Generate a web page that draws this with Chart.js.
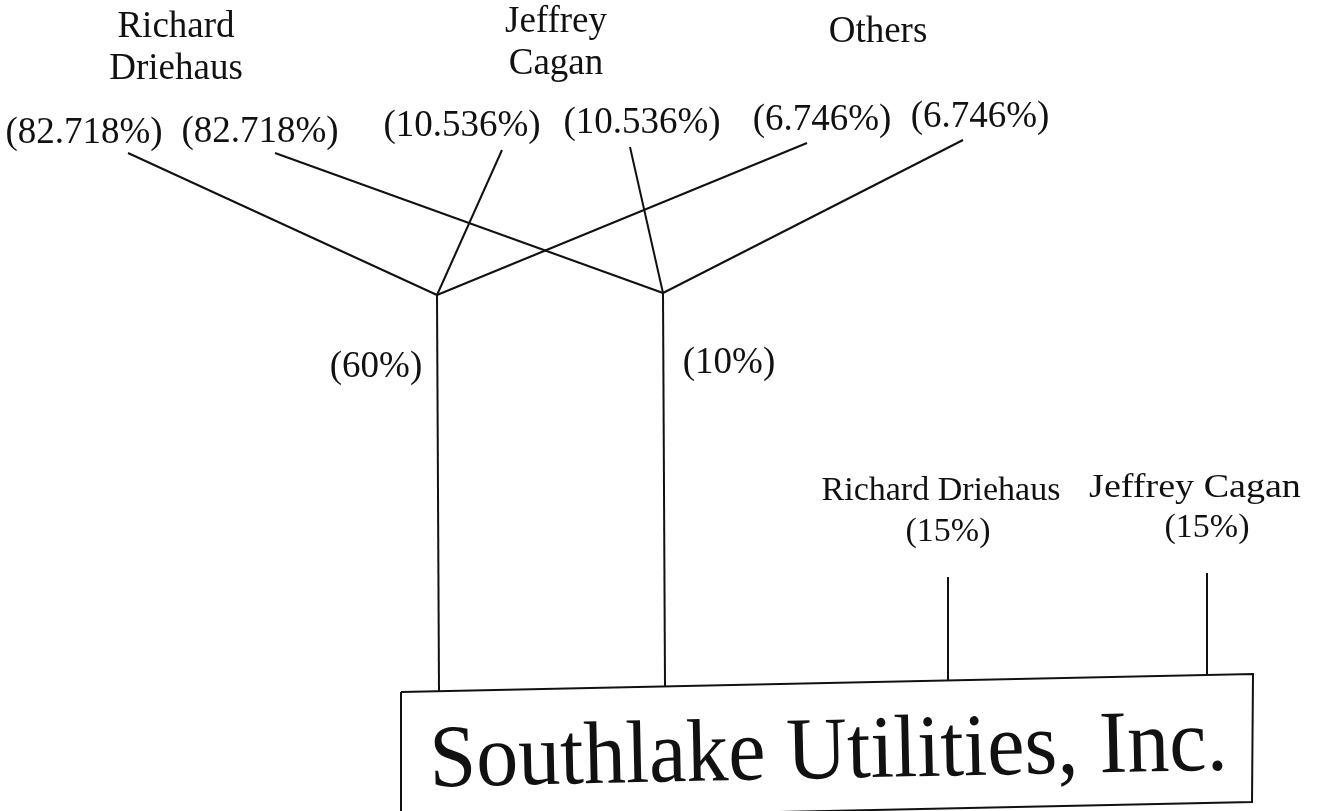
<!DOCTYPE html>
<html>
<head>
<meta charset="utf-8">
<title>Southlake Utilities ownership</title>
<script src="https://cdn.jsdelivr.net/npm/chart.js@4.4.1/dist/chart.umd.min.js"></script>
<style>
  html, body { margin: 0; padding: 0; background: #fff; }
  #wrap { width: 1321px; height: 811px; }
</style>
</head>
<body>
<div id="wrap"><canvas id="orgChart" width="1321" height="811"></canvas></div>
<script>
// Ownership data
const ownerNames = ['Richard\nDriehaus', 'Jeffrey\nCagan', 'Others'];
const ownerStakes = ['82.718%', '10.536%', '6.746%'];
const holdingStakes = ['60%', '10%'];
const directOwners = ['Richard Driehaus', 'Jeffrey Cagan'];
const directStakes = ['15%', '15%'];
const companyName = 'Southlake Utilities, Inc.';

// Node anchors in page units (x right, y down)
const ownerNameX = [176, 556, 878];
const ownerNameY = [37, 32, 42];
const stakeLabelX = [84, 260, 462, 642, 822, 980];
const stakeLabelY = [143, 142, 136, 133, 130, 127];
const stakeLineX = [128, 275, 502, 630, 807, 963];
const stakeLineY = [153, 153, 150, 147, 143, 140];
const stakeTarget = [0, 1, 0, 1, 0, 1];
const holdingX = [437, 663];
const holdingY = [295, 293];
const holdingLabelX = [376, 729];
const holdingLabelY = [377, 373];
const directNameX = [941, 1195];
const directNameY = [500, 497];
const directStakeY = [541, 537];
const directLineX = [948, 1207];
const directLineY = [577, 573];
const boxX = [401, 1253, 1252, 401];
const boxY = [692, 674, 802, 820];

// top edge of the company box at a given x
function boxTopAt(px) {
  return boxY[0] + (boxY[1] - boxY[0]) * (px - boxX[0]) / (boxX[1] - boxX[0]);
}

const lineStyle = {
  borderColor: '#111',
  borderWidth: 2,
  pointRadius: 0,
  showLine: true,
  fill: false,
  tension: 0
};

const datasets = [];

// owner stakes -> holding junctions
stakeLineX.forEach((sx, i) => {
  const t = stakeTarget[i];
  datasets.push({
    ...lineStyle,
    data: [{ x: sx, y: stakeLineY[i] }, { x: holdingX[t], y: holdingY[t] }]
  });
});

// holding junctions -> company
holdingX.forEach((hx, i) => {
  datasets.push({
    ...lineStyle,
    data: [{ x: hx, y: holdingY[i] }, { x: hx + 2, y: boxTopAt(hx + 2) }]
  });
});

// direct owners -> company
directLineX.forEach((dx, i) => {
  datasets.push({
    ...lineStyle,
    data: [{ x: dx, y: directLineY[i] }, { x: dx, y: boxTopAt(dx) }]
  });
});

// company box
datasets.push({
  ...lineStyle,
  data: boxX.map((bx, i) => ({ x: bx, y: boxY[i] })).concat([{ x: boxX[0], y: boxY[0] }])
});

// Draw all the text labels
const labelPlugin = {
  id: 'labels',
  afterDatasetsDraw(chart) {
    const { ctx, scales: { x, y } } = chart;
    ctx.save();
    ctx.fillStyle = '#111';
    ctx.textAlign = 'center';
    ctx.textBaseline = 'alphabetic';

    // owner names (two lines each)
    ctx.font = '37px "Liberation Serif", "DejaVu Serif", serif';
    ownerNames.forEach((name, i) => {
      name.split('\n').forEach((line, j) => {
        ctx.fillText(line, x.getPixelForValue(ownerNameX[i]), y.getPixelForValue(ownerNameY[i] + j * 42));
      });
    });

    // stake labels, each owner has two
    stakeLabelX.forEach((lx, i) => {
      const txt = '(' + ownerStakes[Math.floor(i / 2)] + ')';
      ctx.fillText(txt, x.getPixelForValue(lx), y.getPixelForValue(stakeLabelY[i]));
    });

    // holding stakes
    holdingStakes.forEach((s, i) => {
      ctx.fillText('(' + s + ')', x.getPixelForValue(holdingLabelX[i]), y.getPixelForValue(holdingLabelY[i]));
    });

    // direct owners
    ctx.font = '34px "Liberation Serif", "DejaVu Serif", serif';
    directOwners.forEach((name, i) => {
      const nx = x.getPixelForValue(directNameX[i]);
      const ny = y.getPixelForValue(directNameY[i]);
      // the scanned "Jeffrey Cagan" runs a little wider
      const stretch = i === 1 ? 1.12 : 1;
      ctx.save();
      ctx.translate(nx, ny);
      ctx.scale(stretch, 1);
      ctx.fillText(name, 0, 0);
      ctx.restore();
      ctx.fillText('(' + directStakes[i] + ')', x.getPixelForValue(directLineX[i]), y.getPixelForValue(directStakeY[i]));
    });

    // company name, tilted with the box and condensed
    const angle = Math.atan2(boxY[1] - boxY[0], boxX[1] - boxX[0]);
    ctx.font = '89px "Liberation Serif", "DejaVu Serif", serif';
    const w = ctx.measureText(companyName).width;
    ctx.translate(x.getPixelForValue(829), y.getPixelForValue(778));
    ctx.rotate(angle);
    ctx.scale(798 / w, 1);
    ctx.fillText(companyName, 0, 0);
    ctx.restore();
  }
};

new Chart(document.getElementById('orgChart'), {
  type: 'scatter',
  data: { datasets: datasets },
  options: {
    responsive: false,
    animation: false,
    layout: { padding: 0 },
    scales: {
      x: { type: 'linear', min: 0, max: 1321, display: false },
      y: { type: 'linear', min: 0, max: 811, reverse: true, display: false }
    },
    plugins: {
      legend: { display: false },
      tooltip: { enabled: false }
    }
  },
  plugins: [labelPlugin]
});
</script>
</body>
</html>
